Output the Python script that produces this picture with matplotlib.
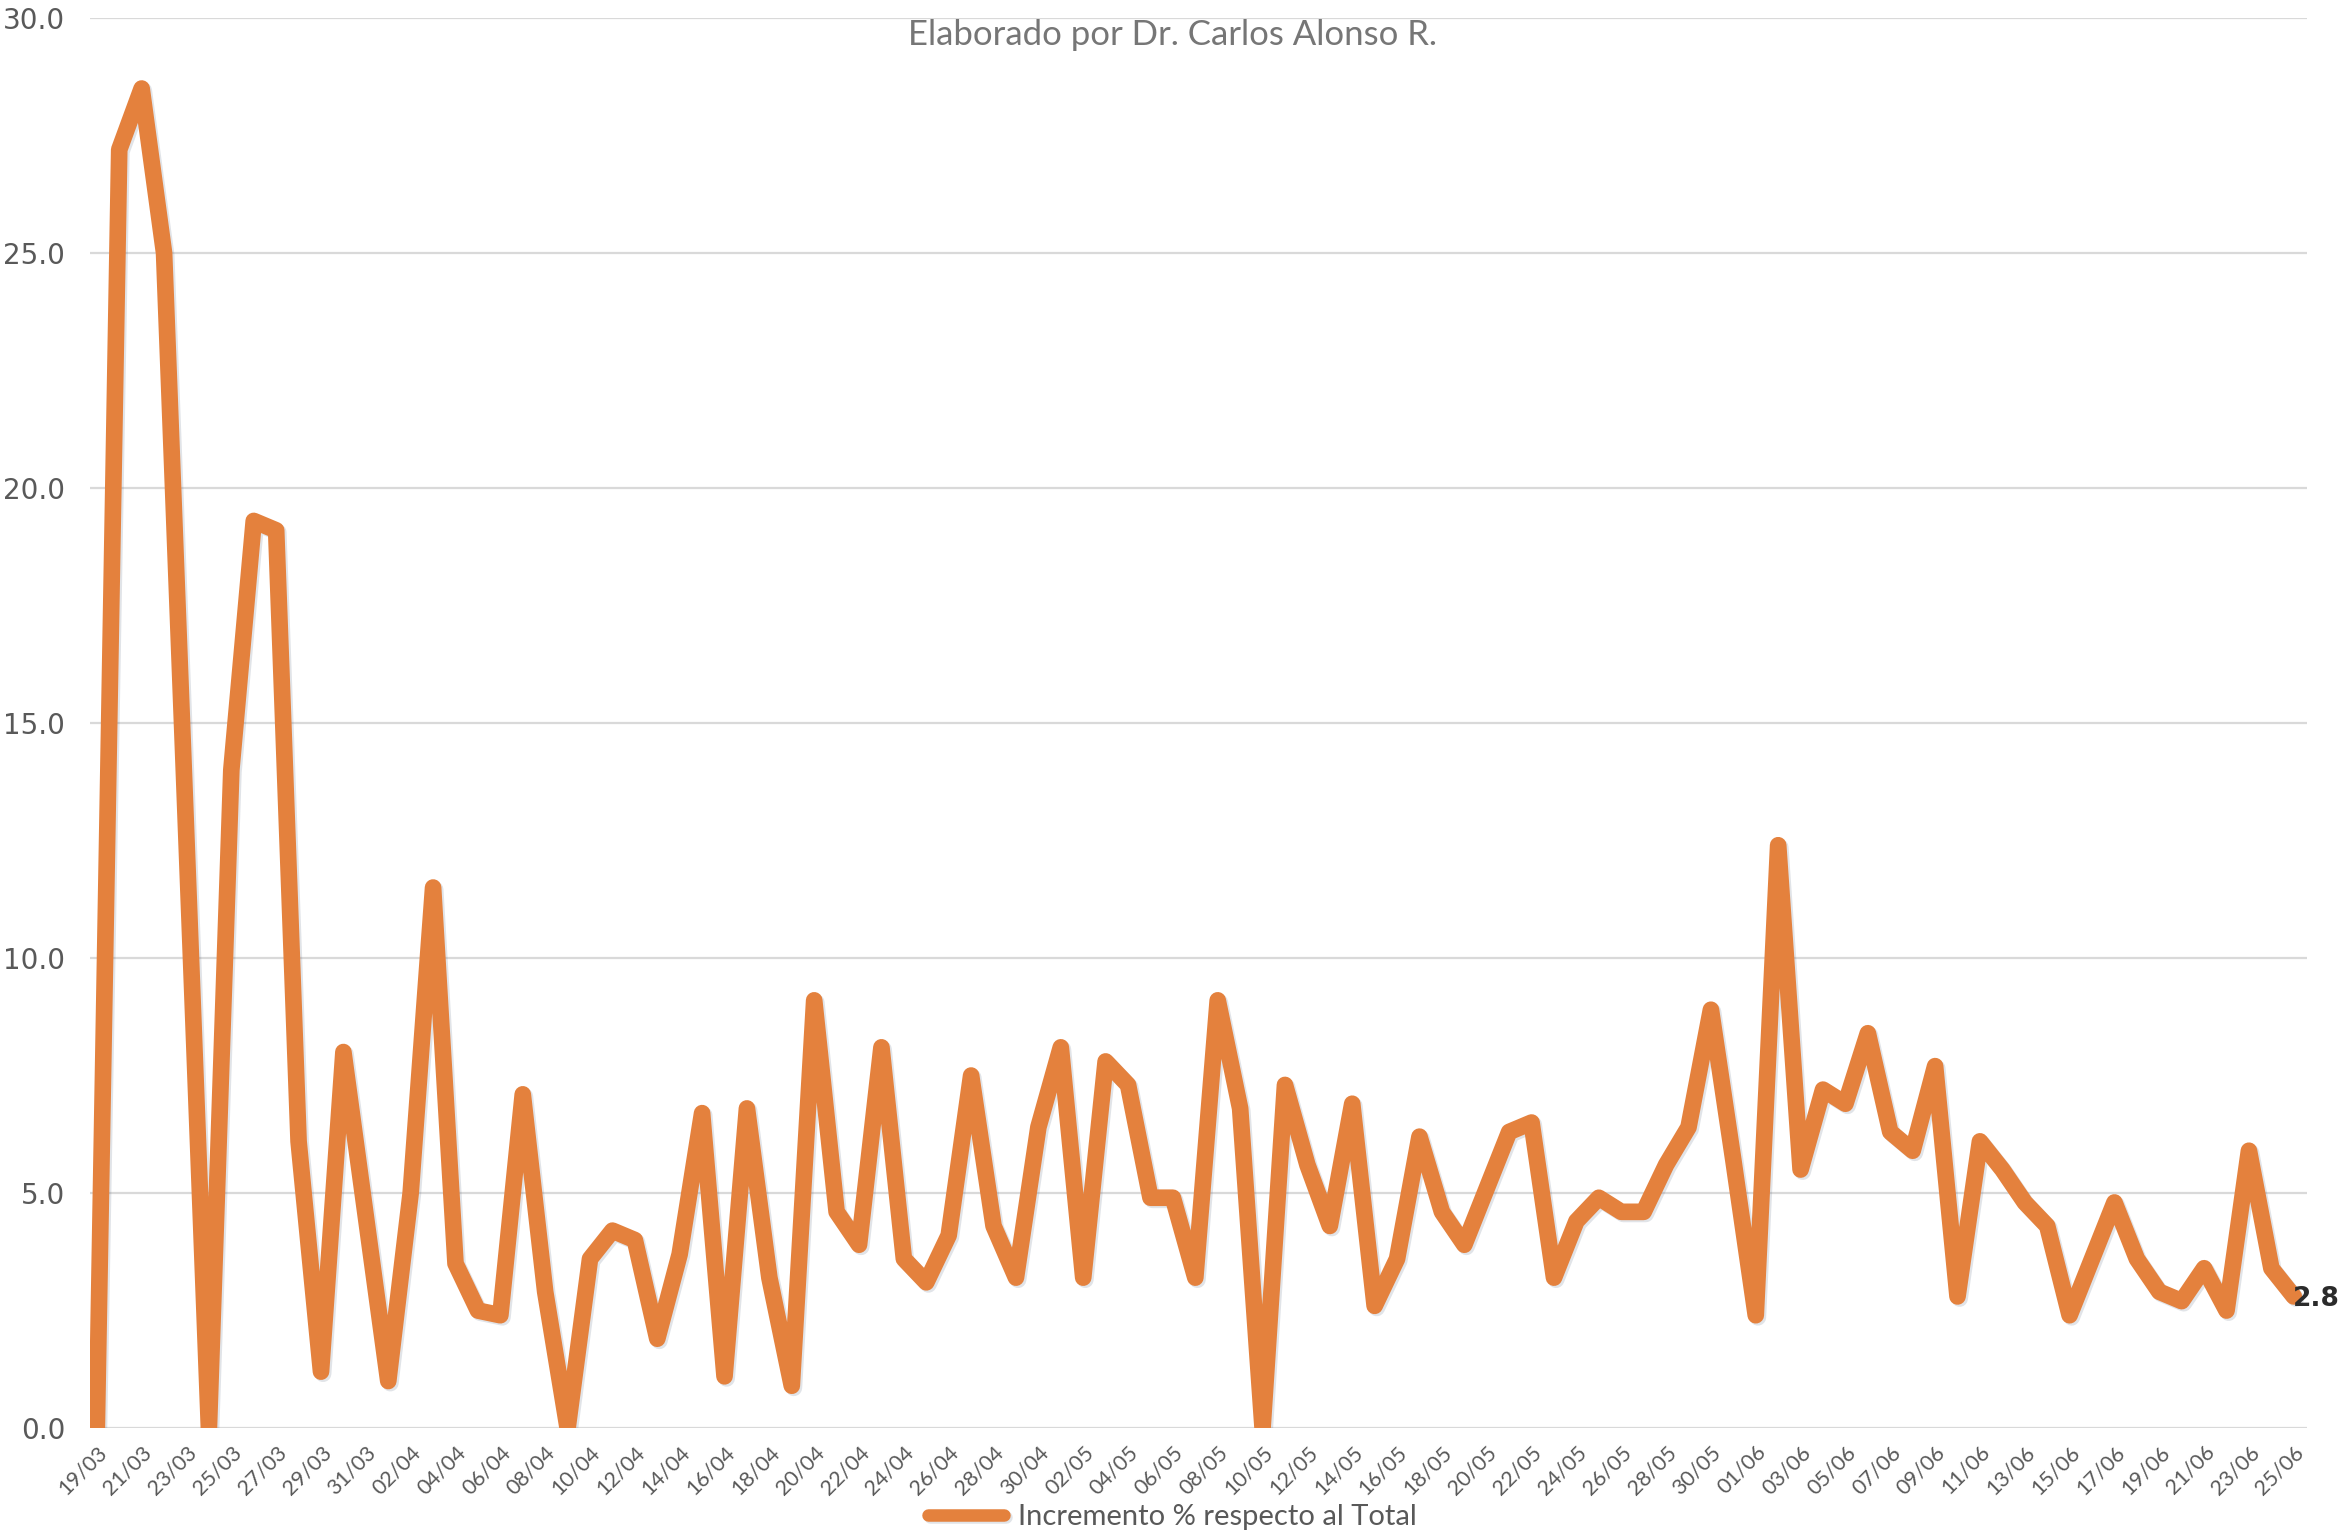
import numpy as np
import pandas as pd
import matplotlib
matplotlib.use('Agg')
import matplotlib.pyplot as plt
import matplotlib.patheffects as pe

# fechas diarias 19/03 -> 25/06
fechas = pd.date_range('2020-03-19', '2020-06-25', freq='D')
etiquetas = [d.strftime('%d/%m') for d in fechas]

# incremento % respecto al total
incremento = [
    0.0, 27.2, 28.5, 25.0, 12.5, 0.0, 14.0, 19.3, 19.1, 6.1,
    1.2, 8.0, 4.5, 1.0, 5.0, 11.5, 3.5, 2.5, 2.4, 7.1,
    2.9, 0.0, 3.6, 4.2, 4.0, 1.9, 3.7, 6.7, 1.1, 6.8,
    3.2, 0.9, 9.1, 4.6, 3.9, 8.1, 3.6, 3.1, 4.1, 7.5,
    4.3, 3.2, 6.4, 8.1, 3.2, 7.8, 7.3, 4.9, 4.9, 3.2,
    9.1, 6.8, 0.0, 7.3, 5.6, 4.3, 6.9, 2.6, 3.6, 6.2,
    4.6, 3.9, 5.1, 6.3, 6.5, 3.2, 4.4, 4.9, 4.6, 4.6,
    5.6, 6.4, 8.9, 5.7, 2.4, 12.4, 5.5, 7.2, 6.9, 8.4,
    6.3, 5.9, 7.7, 2.8, 6.1, 5.5, 4.8, 4.3, 2.4, 3.6,
    4.8, 3.6, 2.9, 2.7, 3.4, 2.5, 5.9, 3.4, 2.8,
]
y_ticks = [0, 5, 10, 15, 20, 25, 30]

naranja = '#E4813D'
gris_txt = '#595959'

fig = plt.figure(figsize=(23.4, 15.4), dpi=100)
ax = fig.add_axes([0.0385, 0.0727, 0.9475, 0.9156])

x = np.arange(len(incremento))
ax.plot(x, incremento, color=naranja, lw=12, solid_joinstyle='round',
        solid_capstyle='round', label='Incremento % respecto al Total',
        path_effects=[pe.SimpleLineShadow(offset=(1.5, -1.5), alpha=0.18,
                                          shadow_color='#5a6a80'),
                      pe.Normal()])

ax.set_xlim(-0.3, len(incremento) - 1 + 0.6)
ax.set_ylim(0, 30)
ax.set_yticks(y_ticks)
ax.set_yticklabels([f'{v:.1f}' for v in y_ticks], fontsize=20,
                   color=gris_txt, family='DejaVu Sans')
ax.tick_params(axis='y', length=0, pad=18)

ax.set_xticks(x[::2])
ax.set_xticklabels(etiquetas[::2], rotation=45, ha='right',
                   rotation_mode='anchor', fontsize=15.5, color=gris_txt,
                   family='Lato')
ax.tick_params(axis='x', length=0, pad=10)

ax.grid(axis='y', color='#D9D9D9', lw=1.6)
ax.set_axisbelow(True)
for s in ax.spines.values():
    s.set_visible(False)

# etiqueta del ultimo valor
ax.annotate(f'{incremento[-1]:.1f}', xy=(x[-1], incremento[-1]),
            xytext=(-1, -2), textcoords='offset points', ha='left',
            va='center', fontsize=19, fontweight='bold', color='#2B2B2B',
            family='DejaVu Sans', annotation_clip=False)

fig.text(0.501, 0.977, 'Elaborado por Dr. Carlos Alonso R.', ha='center',
         va='center', fontsize=25, color='#767676', family='Lato')

leg = fig.legend(loc='center', bbox_to_anchor=(0.501, 0.015), frameon=False,
                 handlelength=2.6, prop={'family': 'Lato', 'size': 21},
                 labelcolor=gris_txt, handletextpad=0.5)
for h in leg.get_lines():
    h.set_linewidth(9)

fig.savefig('out.png', dpi=100)
